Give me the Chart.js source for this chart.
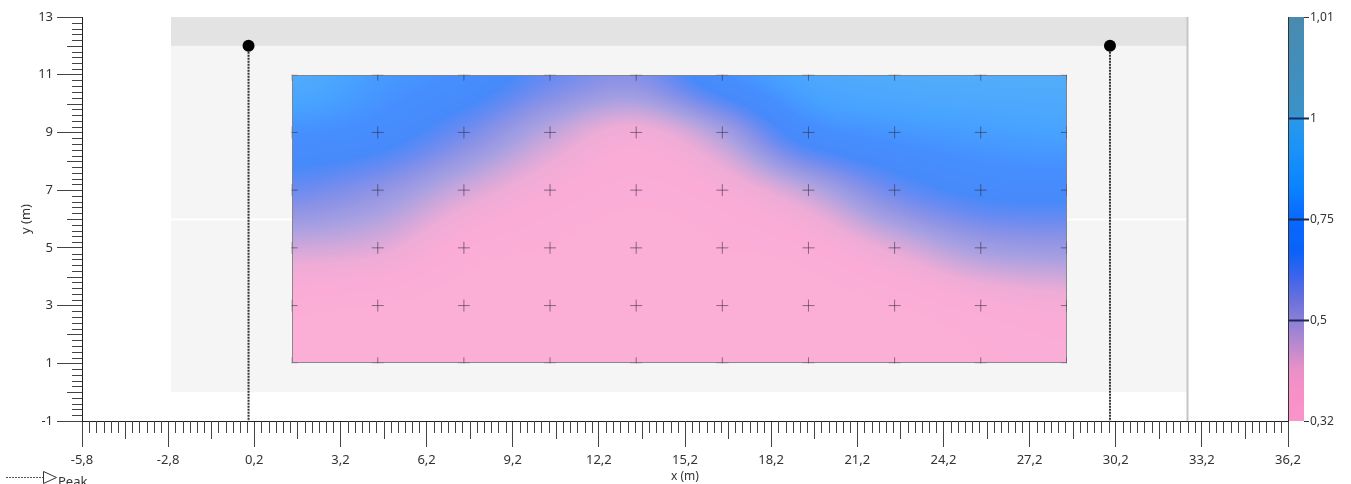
<!DOCTYPE html>
<html>
<head>
<meta charset="utf-8">
<script src="https://cdn.jsdelivr.net/npm/chart.js@4.4.0/dist/chart.umd.min.js"></script>
<style>
  html, body { margin: 0; padding: 0; background: #fff; }
  #wrap { width: 1351px; height: 484px; }
</style>
</head>
<body>
<div id="wrap"><canvas id="chart" width="1351" height="484"></canvas></div>
<script>
// measurement grid (crosses) and the values behind the colour field
const crossX = [1.5, 4.5, 7.5, 10.5, 13.5, 16.5, 19.5, 22.5, 25.5, 28.5];
const crossY = [1, 3, 5, 7, 9, 11];
const valY1  = [0.33, 0.33, 0.33, 0.33, 0.33, 0.33, 0.33, 0.33, 0.34, 0.35];
const valY3  = [0.35, 0.34, 0.33, 0.33, 0.33, 0.33, 0.33, 0.34, 0.37, 0.39];
const valY5  = [0.45, 0.43, 0.36, 0.34, 0.33, 0.34, 0.36, 0.43, 0.51, 0.53];
const valY7  = [0.61, 0.55, 0.45, 0.38, 0.35, 0.38, 0.47, 0.61, 0.69, 0.70];
const valY9  = [0.76, 0.72, 0.60, 0.47, 0.40, 0.50, 0.72, 0.78, 0.81, 0.83];
const valY11 = [0.90, 0.80, 0.74, 0.62, 0.57, 0.74, 0.86, 0.90, 0.91, 0.91];

// peak markers
const peakX = [0, 30];
const peakTop = 12;
const peakLabel = 'Peak';

// colour bar
const cbValues = [1.01, 1, 0.75, 0.5, 0.32];
const cbLabels = ['1,01', '1', '0,75', '0,5', '0,32'];

// axis ranges
const xMin = -5.8, xMax = 36.2, xStep = 3;
const yMin = -1, yMax = 13, yStep = 2;

// background zone
const zoneX = [-2.7, 32.7];
const zoneY = [0, 13];
const zoneBand = 12;

// colour map along the bar (0 = top, 1 = bottom)
const cmapStops = [
  [0.00, '#4a8aae'], [0.24, '#3a92c8'], [0.25, '#2a98e8'], [0.33, '#1a92f8'],
  [0.42, '#0a84ff'], [0.50, '#0868ff'], [0.58, '#0a62f8'], [0.64, '#3a64ec'],
  [0.70, '#6a70dc'], [0.75, '#8a80d8'], [0.80, '#b088d0'], [0.87, '#e890c8'],
  [0.93, '#f890c8'], [1.00, '#fa94c8']
];
const fieldAlpha = 0.75;
const fontFamily = "'Noto Sans', 'DejaVu Sans', sans-serif";

const grid = [valY1, valY3, valY5, valY7, valY9, valY11];
const fmt = v => (Math.round(v * 10) / 10).toString().replace('.', ',');

function hexRgb(h) {
  return [parseInt(h.slice(1, 3), 16), parseInt(h.slice(3, 5), 16), parseInt(h.slice(5, 7), 16)];
}
const cmapRgb = cmapStops.map(s => [s[0], hexRgb(s[1])]);

function valueToPos(v) {
  v = Math.max(cbValues[cbValues.length - 1], Math.min(cbValues[0], v));
  for (let i = 0; i < cbValues.length - 1; i++) {
    if (v >= cbValues[i + 1]) {
      const t = (cbValues[i] - v) / (cbValues[i] - cbValues[i + 1]);
      return (i + t) / (cbValues.length - 1);
    }
  }
  return 1;
}

function posToRgb(p) {
  for (let i = 0; i < cmapRgb.length - 1; i++) {
    const [p0, c0] = cmapRgb[i];
    const [p1, c1] = cmapRgb[i + 1];
    if (p <= p1) {
      const t = p1 === p0 ? 0 : (p - p0) / (p1 - p0);
      return [0, 1, 2].map(k => c0[k] + (c1[k] - c0[k]) * t);
    }
  }
  return cmapRgb[cmapRgb.length - 1][1];
}

function cr(p0, p1, p2, p3, t) {
  return 0.5 * (2 * p1 + (-p0 + p2) * t + (2 * p0 - 5 * p1 + 4 * p2 - p3) * t * t + (-p0 + 3 * p1 - 3 * p2 + p3) * t * t * t);
}

function fieldAt(x, y) {
  const nx = crossX.length, ny = crossY.length;
  const u = (x - crossX[0]) / (crossX[1] - crossX[0]);
  const w = (y - crossY[0]) / (crossY[1] - crossY[0]);
  const i = Math.min(Math.max(Math.floor(u), 0), nx - 2);
  const j = Math.min(Math.max(Math.floor(w), 0), ny - 2);
  const ci = k => Math.min(Math.max(k, 0), nx - 1);
  const cj = k => Math.min(Math.max(k, 0), ny - 1);
  const tu = u - i, tw = w - j;
  const rowAt = r => {
    const row = grid[cj(r)];
    return cr(row[ci(i - 1)], row[ci(i)], row[ci(i + 1)], row[ci(i + 2)], tu);
  };
  return cr(rowAt(j - 1), rowAt(j), rowAt(j + 1), rowAt(j + 2), tw);
}

const backgroundPlugin = {
  id: 'fieldBackground',
  beforeDatasetsDraw(chart) {
    const { ctx, scales: { x, y } } = chart;
    ctx.save();
    // grey zone
    const zx0 = x.getPixelForValue(zoneX[0]), zx1 = x.getPixelForValue(zoneX[1]);
    const zy0 = y.getPixelForValue(zoneY[1]), zyb = y.getPixelForValue(zoneBand), zy1 = y.getPixelForValue(zoneY[0]);
    ctx.fillStyle = '#f5f5f5';
    ctx.fillRect(zx0, zy0, zx1 - zx0, zy1 - zy0);
    ctx.fillStyle = '#e3e3e3';
    ctx.fillRect(zx0, zy0, zx1 - zx0, zyb - zy0);
    ctx.strokeStyle = '#ffffff';
    ctx.lineWidth = 2;
    ctx.beginPath();
    const ym = Math.round(y.getPixelForValue((yMin + yMax) / 2)) + 0.5;
    ctx.moveTo(zx0, ym);
    ctx.lineTo(zx1, ym);
    ctx.stroke();
    ctx.strokeStyle = '#c6c6c6';
    ctx.lineWidth = 2;
    ctx.beginPath();
    ctx.moveTo(zx1, zy0);
    ctx.lineTo(zx1, y.getPixelForValue(yMin));
    ctx.stroke();

    // colour field
    const left = Math.round(x.getPixelForValue(crossX[0]));
    const right = Math.round(x.getPixelForValue(crossX[crossX.length - 1]));
    const top = Math.round(y.getPixelForValue(crossY[crossY.length - 1]));
    const bottom = Math.round(y.getPixelForValue(crossY[0]));
    const w = right - left, h = bottom - top;
    const off = document.createElement('canvas');
    off.width = w; off.height = h;
    const octx = off.getContext('2d');
    const img = octx.createImageData(w, h);
    for (let py = 0; py < h; py++) {
      const yv = y.getValueForPixel(top + py + 0.5);
      for (let px = 0; px < w; px++) {
        const xv = x.getValueForPixel(left + px + 0.5);
        const c = posToRgb(valueToPos(fieldAt(xv, yv)));
        const k = (py * w + px) * 4;
        img.data[k] = c[0] * fieldAlpha + 255 * (1 - fieldAlpha);
        img.data[k + 1] = c[1] * fieldAlpha + 255 * (1 - fieldAlpha);
        img.data[k + 2] = c[2] * fieldAlpha + 255 * (1 - fieldAlpha);
        img.data[k + 3] = 255;
      }
    }
    octx.putImageData(img, 0, 0);
    ctx.drawImage(off, left, top);
    ctx.strokeStyle = 'rgba(130,130,130,0.9)';
    ctx.lineWidth = 1;
    ctx.strokeRect(left + 0.5, top + 0.5, w - 1, h - 1);
    ctx.restore();
  },
  beforeDatasetDraw(chart, args) {
    if (args.index !== 0) return;
    const { ctx, scales: { x, y } } = chart;
    const left = x.getPixelForValue(crossX[0]), right = x.getPixelForValue(crossX[crossX.length - 1]);
    const top = y.getPixelForValue(crossY[crossY.length - 1]), bottom = y.getPixelForValue(crossY[0]);
    ctx.save();
    ctx.beginPath();
    ctx.rect(left, top, right - left, bottom - top);
    ctx.clip();
  },
  afterDatasetDraw(chart, args) {
    if (args.index !== 0) return;
    chart.ctx.restore();
  }
};

const decorPlugin = {
  id: 'axisDecor',
  afterDraw(chart) {
    const { ctx, chartArea, scales: { x, y } } = chart;
    ctx.save();
    ctx.strokeStyle = '#444';
    ctx.lineWidth = 1;
    // minor ticks on x
    ctx.beginPath();
    const nxm = Math.round((xMax - xMin) / 0.25);
    for (let i = 0; i <= nxm; i++) {
      if (i % 12 === 0) continue;
      const px = Math.round(x.getPixelForValue(xMin + i * 0.25)) + 0.5;
      const len = i % 6 === 0 ? 18 : 12;
      ctx.moveTo(px, chartArea.bottom);
      ctx.lineTo(px, chartArea.bottom + len);
    }
    // minor ticks on y
    const nym = Math.round((yMax - yMin) / 0.2);
    for (let i = 0; i <= nym; i++) {
      if (i % 10 === 0) continue;
      const py = Math.round(y.getPixelForValue(yMin + i * 0.2)) + 0.5;
      const len = i % 5 === 0 ? 15 : 10;
      ctx.moveTo(chartArea.left, py);
      ctx.lineTo(chartArea.left - len, py);
    }
    ctx.stroke();

    // colour bar
    const cx = chartArea.right, cw = 16;
    const grad = ctx.createLinearGradient(0, chartArea.top, 0, chartArea.bottom);
    cmapStops.forEach(s => grad.addColorStop(s[0], s[1]));
    ctx.fillStyle = grad;
    ctx.fillRect(cx, chartArea.top, cw, chartArea.bottom - chartArea.top);
    ctx.strokeStyle = '#333';
    ctx.beginPath();
    ctx.moveTo(cx + 0.5, chartArea.top);
    ctx.lineTo(cx + 0.5, chartArea.bottom);
    ctx.stroke();
    ctx.font = '12px ' + fontFamily;
    ctx.fillStyle = '#333';
    ctx.textBaseline = 'middle';
    ctx.textAlign = 'left';
    cbLabels.forEach((lab, i) => {
      const edge = i === 0 || i === cbLabels.length - 1;
      const py = Math.round(chartArea.top + (chartArea.bottom - chartArea.top) * i / (cbLabels.length - 1)) + 0.5;
      ctx.strokeStyle = edge ? '#333' : '#1c2c55';
      ctx.lineWidth = edge ? 1 : 2;
      ctx.beginPath();
      ctx.moveTo(edge ? cx + cw : cx, py);
      ctx.lineTo(cx + cw + 5, py);
      ctx.stroke();
      ctx.fillText(lab, cx + cw + 6, py);
    });

    // legend
    const ly = 477;
    ctx.strokeStyle = '#555';
    ctx.lineWidth = 1;
    ctx.setLineDash([2, 1]);
    ctx.beginPath();
    ctx.moveTo(6, ly + 0.5);
    ctx.lineTo(43, ly + 0.5);
    ctx.stroke();
    ctx.setLineDash([]);
    ctx.strokeStyle = '#333';
    ctx.beginPath();
    ctx.moveTo(43.5, ly - 5.5);
    ctx.lineTo(56.5, ly + 0.5);
    ctx.lineTo(43.5, ly + 6.5);
    ctx.closePath();
    ctx.stroke();
    ctx.font = '13px ' + fontFamily;
    ctx.fillStyle = '#333';
    ctx.textBaseline = 'top';
    ctx.fillText(peakLabel, 58, ly - 1);
    ctx.restore();
  }
};

const crossPoints = [];
crossY.forEach(yv => crossX.forEach(xv => crossPoints.push({ x: xv, y: yv })));

const peakSets = peakX.map(px => ({
  label: peakLabel,
  data: [{ x: px, y: peakTop }, { x: px, y: yMin }],
  showLine: true,
  borderColor: '#333',
  borderWidth: 2,
  borderDash: [2, 1],
  pointRadius: ctx => (ctx.raw && ctx.raw.y === peakTop ? 6 : 0),
  pointBackgroundColor: '#000',
  pointBorderColor: '#000',
  pointBorderWidth: 0
}));

new Chart(document.getElementById('chart'), {
  type: 'scatter',
  data: {
    datasets: [
      {
        label: 'points',
        data: crossPoints,
        pointStyle: 'cross',
        pointRadius: 6,
        borderColor: 'rgba(50,40,60,0.55)',
        borderWidth: 1
      },
      ...peakSets
    ]
  },
  options: {
    responsive: false,
    animation: false,
    layout: { padding: { top: 17, right: 63, bottom: 0, left: 0 } },
    plugins: {
      legend: { display: false },
      tooltip: { enabled: false }
    },
    scales: {
      x: {
        type: 'linear',
        min: xMin,
        max: xMax,
        afterFit(scale) { scale.height = 63; },
        ticks: {
          stepSize: xStep,
          callback: v => fmt(v),
          color: '#333',
          padding: 5,
          maxRotation: 0,
          autoSkip: false,
          font: { family: fontFamily, size: 13 }
        },
        grid: { drawOnChartArea: false, tickLength: 26, color: '#444' },
        border: { color: '#222', width: 1 },
        title: {
          display: true,
          text: 'x (m)',
          color: '#333',
          padding: { top: 0, bottom: 0 },
          font: { family: fontFamily, size: 12 }
        }
      },
      y: {
        type: 'linear',
        min: yMin,
        max: yMax,
        afterFit(scale) { scale.width = 82; },
        ticks: {
          stepSize: yStep,
          callback: v => fmt(v),
          color: '#333',
          padding: 4,
          autoSkip: false,
          font: { family: fontFamily, size: 13 }
        },
        grid: { drawOnChartArea: false, tickLength: 25, color: '#444' },
        border: { color: '#222', width: 1 },
        title: {
          display: true,
          text: 'y (m)',
          color: '#333',
          padding: { top: 18, bottom: 0 },
          font: { family: fontFamily, size: 13 }
        }
      }
    }
  },
  plugins: [backgroundPlugin, decorPlugin]
});
</script>
</body>
</html>
